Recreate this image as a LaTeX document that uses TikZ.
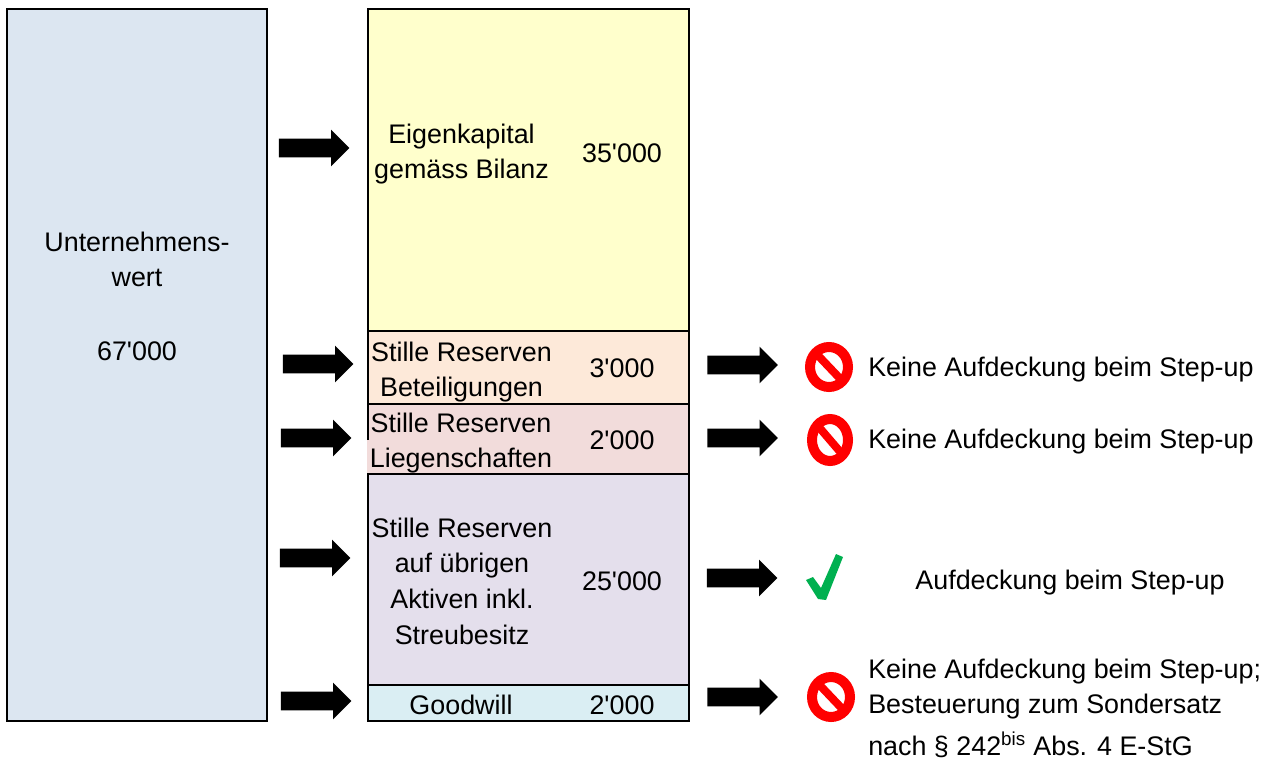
\documentclass[tikz,border=0pt]{standalone}
\usepackage{fontspec}
\setmainfont{Liberation Sans}[Ligatures=TeXOff]
\usetikzlibrary{shapes.arrows,shapes.geometric}
\definecolor{wertblue}{HTML}{DCE6F1}
\definecolor{eigenyellow}{HTML}{FFFFCC}
\definecolor{betorange}{HTML}{FDE9D9}
\definecolor{liegrose}{HTML}{F2DCDB}
\definecolor{aktivlilac}{HTML}{E4DFEC}
\definecolor{goodcyan}{HTML}{DAEEF3}
\definecolor{okgreen}{HTML}{00B050}
\begin{document}
\begin{tikzpicture}[x=0.75pt, y=-0.75pt]
        %style
        \tikzset{label/.style = {font=\fontsize{20.15}{26.25}\selectfont, align=center, inner sep=0pt}}
        \tikzset{note/.style = {label, align=left, anchor=west}}
        \tikzset{bar/.style = {shape=rectangle, draw, line width=1.8pt, minimum width=240.75pt}}
        \tikzset{blockarrow/.style = {shape=single arrow, fill=black, inner xsep=0pt, inner ysep=6.75pt, minimum height=53pt, single arrow head extend=6.75pt, single arrow tip angle=90}}
        \tikzset{noentry/.style = {shape=ellipse, draw=red, fill=white, inner sep=0pt, line width=7.5pt, minimum width=28.5pt, minimum height=30pt,
                path picture={\draw[red, line width=6pt] (path picture bounding box.north west) -- (path picture bounding box.south east);}}}
        \useasboundingbox (0,0) rectangle (1270,761);
        %boxes
        \node[shape=rectangle, draw, line width=1.8pt, fill=wertblue, minimum width=195pt, minimum height=534pt] (wert) at (137,365) {};
        \node[bar, fill=eigenyellow, minimum height=241.5pt]  (eigen) at (528.5,170) {};
        \node[bar, fill=betorange,   minimum height=54.75pt]  (beteil) at (528.5,367.5) {};
        \node[bar, fill=aktivlilac,  minimum height=158.25pt] (aktiv) at (528.5,579.5) {};
        \node[bar, fill=liegrose,    minimum height=52.5pt]   (lieg) at (528.5,439) {};
        \node[bar, fill=goodcyan,    minimum height=27pt]     (good) at (528.5,703) {};
        \fill[liegrose] (366.5,440) rectangle (371,473);
        %texts
        \node[label] (wertlabel)   at (137,296.5) {Unternehmens-\\wert\\[29.25pt]67'000};
        \node[label] (eigenlabel)  at (461.5,154) {Eigenkapital\\gemäss Bilanz};
        \node[label] (eigenval)    at (622,153)   {35'000};
        \node[label] (beteillabel) at (461.5,372) {Stille Reserven\\Beteiligungen};
        \node[label] (beteilval)   at (622,368)   {3'000};
        \node[label] (lieglabel)   at (461,443)   {Stille Reserven\\Liegenschaften};
        \node[label] (liegval)     at (622,440)   {2'000};
        \node[label] (aktivlabel)  at (462,581)   {Stille Reserven\\[0.5pt]auf übrigen\\[0.5pt]Aktiven inkl.\\[0.5pt]Streubesitz};
        \node[label] (aktivval)    at (622,581)   {25'000};
        \node[label] (goodlabel)   at (461,705)   {Goodwill};
        \node[label] (goodval)     at (622,705)   {2'000};
        %arrows
        \node[blockarrow] (pfeila) at (309.5,148) {};
        \node[blockarrow] (pfeilb) at (313.5,364) {};
        \node[blockarrow] (pfeilc) at (311.5,438) {};
        \node[blockarrow] (pfeild) at (310.5,558) {};
        \node[blockarrow] (pfeile) at (311.5,701) {};
        \node[blockarrow] (pfeilf) at (738,365) {};
        \node[blockarrow] (pfeilg) at (738,438) {};
        \node[blockarrow] (pfeilh) at (737.5,578) {};
        \node[blockarrow] (pfeili) at (738,697) {};
        %signs
        \node[noentry] (verbota) at (829,367) {};
        \node[noentry, minimum width=27pt, minimum height=31.5pt] (verbotb) at (830,440) {};
        \node[noentry] (verbotc) at (831,697) {};
        \fill[okgreen] (806,580) -- (813,577) -- (821,588) -- (836,554) -- (843,557) -- (826,600) -- (818,599) -- cycle;
        %notes
        \node[note] (notea) at (868,369.5) {Keine Aufdeckung beim Step-up};
        \node[note] (noteb) at (868,441.5) {Keine Aufdeckung beim Step-up};
        \node[label] (notec) at (1070,583) {Aufdeckung beim Step-up};
        \node[note] (noted) at (868,708.5) {Keine Aufdeckung beim Step-up;\\Besteuerung zum Sondersatz\\[5pt]nach § 242\textsuperscript{bis} Abs. 4 E-StG};
\end{tikzpicture}
\end{document}
